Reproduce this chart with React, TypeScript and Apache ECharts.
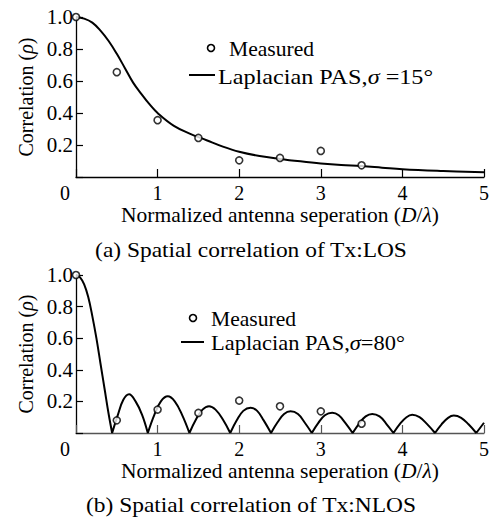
import React, { useEffect, useRef } from "react";
import * as echarts from "echarts";

// (a) Tx:LOS
const measuredAX = [0, 0.5, 1, 1.5, 2, 2.5, 3, 3.5];
const measuredAY = [1.0, 0.655, 0.355, 0.244, 0.104, 0.119, 0.163, 0.073];
const curveAX = [0, 0.1, 0.2, 0.3, 0.4, 0.5, 0.6, 0.7, 0.8, 0.9, 1.0, 1.2, 1.4, 1.6, 1.8, 2.0, 2.25, 2.5, 2.75, 3.0, 3.25, 3.5, 3.75, 4.0, 4.5, 5.0];
const curveAY = [1.0, 0.99, 0.965, 0.915, 0.85, 0.77, 0.68, 0.59, 0.52, 0.455, 0.4, 0.32, 0.27, 0.23, 0.19, 0.158, 0.131, 0.113, 0.098, 0.085, 0.075, 0.068, 0.058, 0.048, 0.037, 0.029];

// (b) Tx:NLOS
const measuredBX = [0, 0.5, 1, 1.5, 2, 2.5, 3, 3.5];
const measuredBY = [1.0, 0.08, 0.148, 0.127, 0.205, 0.169, 0.137, 0.059];
// lobes of the |correlation| curve (each lobe drawn between its zeros)
const lobesBX = [
  [0, 0.05, 0.1, 0.15, 0.2, 0.25, 0.3, 0.35, 0.4, 0.443],
  [0.443, 0.51, 0.58, 0.65, 0.73, 0.81, 0.88],
  [0.88, 0.96, 1.04, 1.125, 1.21, 1.3, 1.39],
  [1.39, 1.47, 1.55, 1.63, 1.71, 1.8, 1.89],
  [1.89, 1.97, 2.05, 2.14, 2.22, 2.3, 2.39],
  [2.39, 2.47, 2.55, 2.63, 2.72, 2.8, 2.89],
  [2.89, 2.97, 3.05, 3.14, 3.22, 3.3, 3.39],
  [3.39, 3.47, 3.55, 3.63, 3.72, 3.8, 3.89],
  [3.89, 3.97, 4.05, 4.12, 4.21, 4.3, 4.4],
  [4.4, 4.48, 4.56, 4.63, 4.72, 4.81, 4.905],
  [4.905, 5.0],
];
const lobesBY = [
  [1.0, 0.985, 0.94, 0.86, 0.74, 0.6, 0.44, 0.28, 0.12, 0],
  [0, 0.11, 0.21, 0.245, 0.2, 0.115, 0],
  [0, 0.115, 0.2, 0.232, 0.2, 0.115, 0],
  [0, 0.085, 0.148, 0.17, 0.148, 0.085, 0],
  [0, 0.08, 0.14, 0.16, 0.14, 0.08, 0],
  [0, 0.068, 0.12, 0.137, 0.12, 0.068, 0],
  [0, 0.064, 0.112, 0.128, 0.112, 0.064, 0],
  [0, 0.06, 0.105, 0.12, 0.105, 0.06, 0],
  [0, 0.058, 0.1, 0.115, 0.1, 0.058, 0],
  [0, 0.055, 0.096, 0.11, 0.096, 0.055, 0],
  [0, 0.065],
];

const yTicks = [0, 0.2, 0.4, 0.6, 0.8, 1.0];
const xTicks = [0, 1, 2, 3, 4, 5];

const FONT = "Liberation Serif";

export default function App() {
  const ref = useRef<HTMLDivElement>(null);
  useEffect(() => {
    document.body.style.margin = "0";
    const chart = echarts.init(ref.current!, undefined, { renderer: "svg" });

    const pairs = (xs: number[], ys: number[]) => xs.map((x, i) => [x, ys[i]]);
    const lobeData: any[] = [];
    lobesBX.forEach((xs, li) => {
      if (li > 0) lobeData.push([xs[0], "-"]);
      xs.forEach((x, i) => lobeData.push([x, lobesBY[li][i]]));
    });

    const xAxisCommon = (axisColor: string) => ({
      type: "value" as const,
      min: xTicks[0],
      max: xTicks[xTicks.length - 1],
      interval: 1,
      splitLine: { show: false },
      axisLine: { show: true, onZero: false, lineStyle: { color: axisColor, width: 1.3 } },
      axisTick: { show: true, inside: true, length: 8, lineStyle: { color: axisColor, width: 1.2 } },
      axisLabel: {
        color: "#000",
        fontFamily: FONT,
        fontSize: 20,
        margin: 6,
        formatter: (v: number) => (v === 0 ? "{z|0}" : String(v)),
        rich: { z: { fontFamily: FONT, fontSize: 20, color: "#000", padding: [0, 22, 0, 0] } },
      },
      nameLocation: "middle" as const,
      nameGap: 27,
      name: "{a|Normalized antenna seperation (}{b|D}{a|/}{b|λ}{a|)}",
      nameTextStyle: {
        rich: {
          a: { fontFamily: FONT, fontSize: 21.5, color: "#000" },
          b: { fontFamily: FONT, fontSize: 21.5, color: "#000", fontStyle: "italic" },
        },
      },
    });
    const yAxisCommon = () => ({
      type: "value" as const,
      min: yTicks[0],
      max: yTicks[yTicks.length - 1],
      interval: 0.2,
      splitLine: { show: false },
      axisLine: { show: true, lineStyle: { color: "#000", width: 1.3 } },
      axisTick: { show: true, inside: true, length: 7, lineStyle: { color: "#000", width: 1.2 } },
      axisLabel: {
        color: "#000",
        fontFamily: FONT,
        fontSize: 21,
        margin: 3,
        formatter: (v: number) => (v === 0 ? "" : v.toFixed(1)),
      },
      nameLocation: "middle" as const,
      nameRotate: 90,
      nameGap: 40,
      name: "{a|Correlation (}{b|ρ}{a|)}",
      nameTextStyle: {
        rich: {
          a: { fontFamily: FONT, fontSize: 20, color: "#000" },
          b: { fontFamily: FONT, fontSize: 20, color: "#000", fontStyle: "italic" },
        },
      },
    });

    const legendText = (x: number, y: number, text: string, size: number, sx: number) => ({
      type: "text",
      x,
      y,
      scaleX: sx,
      style: {
        text,
        fontFamily: FONT,
        fontSize: size,
        fill: "#000",
        verticalAlign: "middle",
        rich: {
          b: { fontFamily: FONT, fontSize: size, fill: "#000", fontStyle: "italic" },
        },
      },
    });

    chart.setOption({
      animation: false,
      backgroundColor: "#fff",
      grid: [
        { left: 76, top: 17, width: 408, height: 160 },
        { left: 76, top: 275, width: 408, height: 158 },
      ],
      xAxis: [
        { ...xAxisCommon("#000"), gridIndex: 0 },
        { ...xAxisCommon("#555"), gridIndex: 1 },
      ],
      yAxis: [
        { ...yAxisCommon(), gridIndex: 0 },
        { ...yAxisCommon(), gridIndex: 1 },
      ],
      series: [
        {
          name: "Laplacian PAS, σ=15°",
          type: "line",
          xAxisIndex: 0,
          yAxisIndex: 0,
          data: pairs(curveAX, curveAY),
          smooth: 0.4,
          showSymbol: false,
          lineStyle: { color: "#000", width: 2 },
          z: 2,
        },
        {
          name: "Measured (LOS)",
          type: "scatter",
          xAxisIndex: 0,
          yAxisIndex: 0,
          data: pairs(measuredAX, measuredAY),
          symbol: "circle",
          symbolSize: 7,
          itemStyle: { color: "#fff", borderColor: "#000", borderWidth: 1.6 },
          z: 3,
        },
        {
          name: "Laplacian PAS, σ=80°",
          type: "line",
          xAxisIndex: 1,
          yAxisIndex: 1,
          data: lobeData,
          smooth: 0.4,
          connectNulls: false,
          showSymbol: false,
          lineStyle: { color: "#000", width: 2 },
          z: 2,
        },
        {
          name: "Measured (NLOS)",
          type: "scatter",
          xAxisIndex: 1,
          yAxisIndex: 1,
          data: pairs(measuredBX, measuredBY),
          symbol: "circle",
          symbolSize: 7,
          itemStyle: { color: "#fff", borderColor: "#000", borderWidth: 1.6 },
          z: 3,
        },
      ],
      graphic: [
        // legend (a)
        { type: "circle", shape: { cx: 211, cy: 48, r: 3.5 }, style: { fill: "#fff", stroke: "#000", lineWidth: 1.6 } },
        legendText(229, 49, "Measured", 20, 1.08),
        { type: "line", shape: { x1: 189, y1: 75, x2: 215, y2: 75 }, style: { stroke: "#000", lineWidth: 2 } },
        legendText(218, 76, "Laplacian PAS,{b|σ} =15°", 22, 1.1),
        // legend (b)
        { type: "circle", shape: { cx: 193, cy: 318, r: 3.5 }, style: { fill: "#fff", stroke: "#000", lineWidth: 1.6 } },
        legendText(211, 319, "Measured", 20, 1.08),
        { type: "line", shape: { x1: 181, y1: 342, x2: 204, y2: 342 }, style: { stroke: "#000", lineWidth: 2 } },
        legendText(211, 343, "Laplacian PAS,{b|σ}=80°", 22, 1.02),
        // captions
        {
          type: "text",
          x: 251,
          y: 250,
          scaleX: 1.065,
          style: { text: "(a) Spatial correlation of Tx:LOS", fontFamily: FONT, fontSize: 22, fill: "#000", align: "center", verticalAlign: "middle" },
        },
        {
          type: "text",
          x: 251,
          y: 505,
          scaleX: 1.065,
          style: { text: "(b) Spatial correlation of Tx:NLOS", fontFamily: FONT, fontSize: 22, fill: "#000", align: "center", verticalAlign: "middle" },
        },
      ],
    });
    return () => chart.dispose();
  }, []);
  return <div ref={ref} style={{ width: 492, height: 518 }} />;
}
